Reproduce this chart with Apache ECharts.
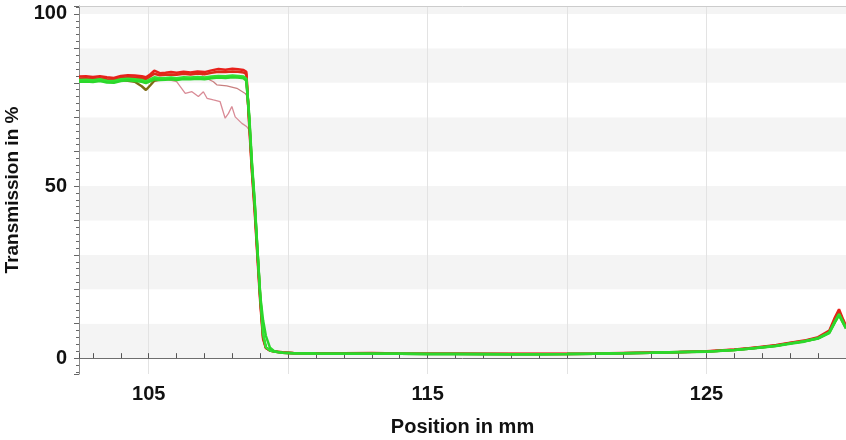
<!DOCTYPE html>
<html><head><meta charset="utf-8">
<script src="https://cdn.jsdelivr.net/npm/echarts@6/dist/echarts.min.js"></script>
<style>html,body{margin:0;padding:0;background:#fff}#c{width:846px;height:440px}</style>
</head><body><div id="c"></div>
<script>
// ---- data ----
const xLabels = [105, 115, 125];
const yLabels = [0, 50, 100];

const xPos = [102.5, 102.75, 103, 103.25, 103.5, 103.75, 104, 104.25, 104.5, 104.75, 104.9, 105.05, 105.2, 105.4, 105.6, 105.8, 106, 106.25, 106.5, 106.75, 107, 107.25, 107.5, 107.75, 108, 108.2, 108.4,
  108.5, 108.6, 108.7, 108.8, 108.9, 109.0, 109.1, 109.2, 109.35, 109.5, 109.8, 110.2,
  111, 112, 113, 114, 115, 116, 117, 118, 119, 120, 121, 122, 123, 124, 125,
  126, 126.5, 127, 127.5, 128, 128.5, 129, 129.4, 129.6, 129.75, 129.9, 130];

const red1 = [81.8, 81.9, 81.7, 81.9, 81.6, 81.4, 82.0, 82.2, 82.1, 81.9, 81.6, 82.4, 83.5, 82.8, 82.9, 83.1, 82.9, 83.2, 83.0, 83.3, 83.1, 83.6, 84.0, 83.8, 84.1, 83.9, 83.7,
  83.2, 68, 54, 42.5, 29, 16, 5.5, 3.0, 2.3, 2.0, 1.7, 1.5,
  1.45, 1.4, 1.5, 1.35, 1.3, 1.3, 1.25, 1.25, 1.25, 1.25, 1.35, 1.5, 1.65, 1.8, 2.0,
  2.55, 2.9, 3.35, 3.8, 4.5, 5.1, 6.1, 8.0, 11.8, 14.2, 11.2, 9.4];

const red2 = [81.2, 81.3, 81.1, 81.3, 81.0, 80.9, 81.4, 81.6, 81.5, 81.3, 81.0, 81.8, 82.6, 82.2, 82.3, 82.4, 82.3, 82.6, 82.4, 82.7, 82.5, 82.9, 83.2, 83.1, 83.3, 83.2, 83.0,
  82.5, 69, 55, 43.5, 30, 17, 6, 3.0, 2.2, 1.9, 1.6, 1.45,
  1.4, 1.35, 1.4, 1.3, 1.25, 1.25, 1.2, 1.2, 1.2, 1.2, 1.3, 1.45, 1.6, 1.75, 1.95,
  2.45, 2.8, 3.25, 3.7, 4.4, 5.0, 5.9, 7.7, 11.2, 13.6, 10.8, 9.1];

const olive = [80.6, 80.7, 80.5, 80.8, 80.4, 80.3, 80.7, 80.6, 80.3, 79.0, 77.9, 79.2, 80.6, 80.9, 81.1, 81.2, 81.0, 81.3, 81.2, 81.4, 81.2, 81.5, 81.7, 81.6, 81.8, 81.7, 81.5,
  81.0, 70, 56, 44.5, 31, 17.5, 6.5, 3.1, 2.2, 1.9, 1.6, 1.45,
  1.35, 1.3, 1.3, 1.25, 1.2, 1.2, 1.2, 1.15, 1.15, 1.2, 1.3, 1.45, 1.6, 1.8, 1.9,
  2.4, 2.75, 3.2, 3.6, 4.3, 4.9, 5.8, 7.5, 10.6, 12.8, 10.4, 8.8];

const green1 = [80.8, 80.9, 80.7, 81.0, 80.6, 80.5, 81.0, 81.2, 81.0, 80.8, 80.4, 81.0, 81.6, 81.3, 81.4, 81.5, 81.3, 81.6, 81.5, 81.7, 81.5, 81.8, 82.0, 81.9, 82.1, 82.0, 81.8,
  81.2, 71, 57, 45.5, 31.5, 18, 7, 3.2, 2.2, 1.9, 1.6, 1.45,
  1.35, 1.3, 1.3, 1.25, 1.2, 1.2, 1.2, 1.15, 1.15, 1.2, 1.3, 1.45, 1.6, 1.8, 1.9,
  2.4, 2.75, 3.2, 3.6, 4.3, 4.9, 5.8, 7.5, 10.6, 12.8, 10.4, 8.8];

const green2 = [80.3, 80.4, 80.2, 80.5, 80.1, 80.0, 80.5, 80.7, 80.5, 80.3, 79.9, 80.4, 81.0, 80.8, 80.9, 81.0, 80.8, 81.1, 81.0, 81.2, 81.0, 81.3, 81.5, 81.4, 81.6, 81.5, 81.3,
  80.6, 70, 56, 45, 31, 18, 11, 6.5, 3.0, 2.0, 1.6, 1.45,
  1.35, 1.3, 1.3, 1.25, 1.2, 1.2, 1.15, 1.15, 1.15, 1.2, 1.3, 1.4, 1.55, 1.75, 1.85,
  2.35, 2.7, 3.1, 3.55, 4.2, 4.8, 5.7, 7.3, 10.3, 12.4, 10.1, 8.6];

const pinkLowX = [105.5, 106.0, 106.31, 106.55, 106.78, 106.96, 107.09, 107.32, 107.56, 107.74, 107.86, 107.98, 108.1, 108.34, 108.52, 108.64, 108.75, 108.85, 108.95, 109.05, 109.2, 109.5];
const pinkLowY = [81.3, 80.3, 76.9, 77.4, 76.0, 77.4, 75.5, 75.0, 74.5, 69.7, 71.1, 73.1, 70.1, 68.2, 67.2, 65.8, 50.5, 38, 24, 10, 3.2, 1.9];
const pinkUpX = [106.9, 107.32, 107.44, 107.8, 108.16, 108.46, 108.58, 108.7, 108.8, 108.9];
const pinkUpY = [82.0, 80.3, 79.4, 79.1, 78.4, 76.9, 75.5, 56, 44, 31];

// ---- chart ----
function pairs(xs, ys) { return xs.map((x, i) => [x, ys[i]]); }
const tickFont = "'Liberation Sans',Arial,sans-serif";
const titleFont = "'Liberation Sans',Arial,sans-serif";
function line(name, xs, ys, color, width) {
  return { name, type: 'line', xAxisIndex: 0, yAxisIndex: 0, data: pairs(xs, ys), showSymbol: false, symbol: 'none',
    lineStyle: { color, width }, itemStyle: { color }, silent: true, z: 3 };
}
const chart = echarts.init(document.getElementById('c'), null, { renderer: 'canvas' });
chart.setOption({
  animation: false,
  backgroundColor: '#ffffff',
  grid: { left: 79, right: 0, top: 6, bottom: 66, containLabel: false, outerBoundsMode: 'none' },
  xAxis: [
    { type: 'value', min: 102.5, max: 130, splitNumber: 5, position: 'bottom',
      axisLine: { show: true, lineStyle: { color: '#6e6e6e', width: 1 } },
      axisTick: { show: false },
      axisLabel: { show: true, margin: 10, fontFamily: tickFont, fontWeight: 'bold', fontSize: 20, color: '#111',
        formatter: v => xLabels.includes(Math.round(v * 100) / 100) ? String(v) : '' },
      splitLine: { show: true, lineStyle: { color: '#e3e3e3', width: 1 } },
      name: 'Position in mm', nameLocation: 'middle', nameGap: 43,
      nameTextStyle: { fontFamily: titleFont, fontWeight: 'bold', fontSize: 20, color: '#111' } },
    { type: 'value', min: 102.5, max: 130, splitNumber: 27, position: 'bottom',
      axisLine: { show: false }, axisTick: { show: true, inside: true, length: 5, lineStyle: { color: '#555' } },
      axisLabel: { show: false }, splitLine: { show: false } },
    { type: 'value', min: 102.5, max: 130, position: 'top',
      axisLine: { show: true, lineStyle: { color: '#cccccc' } }, axisTick: { show: false },
      axisLabel: { show: false }, splitLine: { show: false } }
  ],
  yAxis: [
    { type: 'value', min: -4.6, max: 102.3, splitNumber: 10, position: 'left',
      axisLine: { show: true, lineStyle: { color: '#8c8c8c', width: 1 } },
      axisTick: { show: true, length: 5, lineStyle: { color: '#666' } },
      axisLabel: { show: true, margin: 12, fontFamily: tickFont, fontWeight: 'bold', fontSize: 20, color: '#111',
        formatter: v => yLabels.includes(Math.round(v * 100) / 100) ? String(v) : '' },
      splitLine: { show: false },
      splitArea: { show: true, areaStyle: { color: ['#ffffff', '#f4f4f4'] } },
      name: 'Transmission in %', nameLocation: 'middle', nameGap: 51,
      nameTextStyle: { fontFamily: titleFont, fontWeight: 'bold', fontSize: 19, color: '#111' } },
    { type: 'value', min: -4.6, max: 102.3, splitNumber: 53, position: 'left',
      axisLine: { show: false }, axisTick: { show: true, length: 3, lineStyle: { color: '#666' } },
      axisLabel: { show: false }, splitLine: { show: false } }
  ],
  series: [
    line('pinkLow', pinkLowX, pinkLowY, '#d98b96', 1.3),
    line('pinkUp', pinkUpX, pinkUpY, '#c98080', 1.3),
    line('red1', xPos, red1, '#e8211b', 2.5),
    line('red2', xPos, red2, '#dd2a18', 2.5),
    line('olive', xPos, olive, '#7d6b14', 2.5),
    line('green1', xPos, green1, '#33e233', 2.5),
    line('green2', xPos, green2, '#2bd82b', 2.5)
  ]
});
</script>
</body></html>
